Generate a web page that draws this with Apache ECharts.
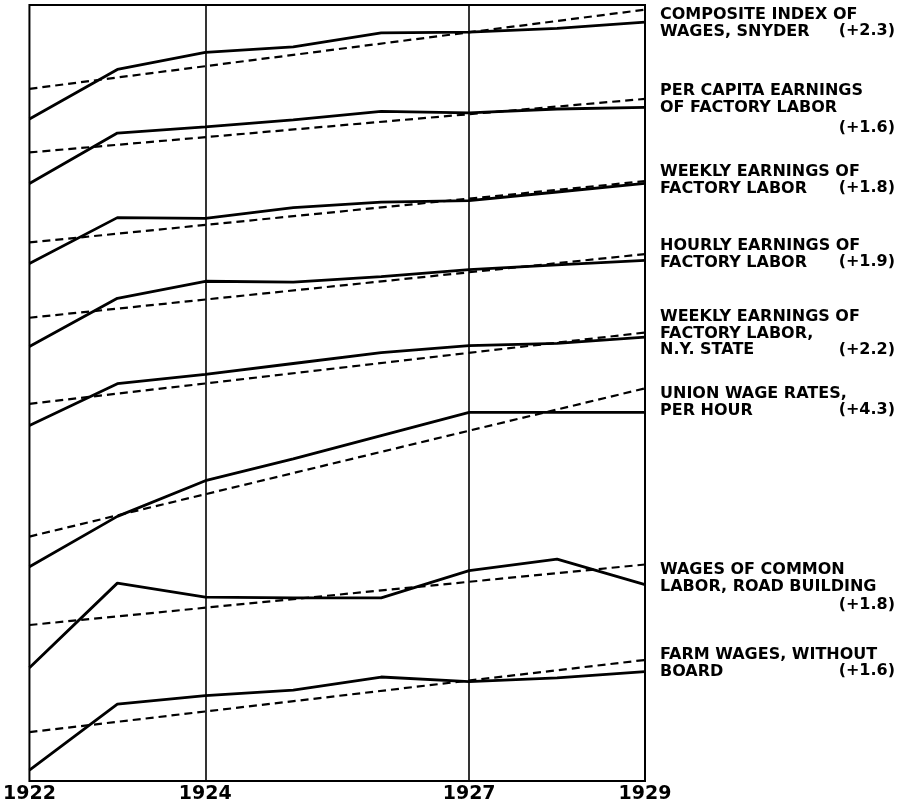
<!DOCTYPE html>
<html>
<head>
<meta charset="utf-8">
<title>Wages 1922-1929</title>
<script src="https://cdn.jsdelivr.net/npm/echarts@6/dist/echarts.min.js"></script>
<style>
  html, body { margin: 0; padding: 0; background: #fff; }
  #chart { width: 899px; height: 810px; }
</style>
</head>
<body>
<div id="chart"></div>
<script>
// years on the x axis
const years = [1922, 1923, 1924, 1925, 1926, 1927, 1928, 1929]
const yearLabels = [1922, 1924, 1927, 1929]

// series values (relative chart units)
const composite = [85.3, 91.7, 93.9, 94.6, 96.4, 96.5, 97.0, 97.8]
const perCapita = [77.0, 83.5, 84.3, 85.2, 86.3, 86.1, 86.6, 86.8]
const weeklyFactory = [66.7, 72.6, 72.5, 73.9, 74.6, 74.8, 75.9, 77.0]
const hourlyFactory = [56.0, 62.2, 64.4, 64.3, 65.0, 65.9, 66.5, 67.1]
const weeklyNY = [45.8, 51.2, 52.4, 53.8, 55.2, 56.1, 56.4, 57.2]
const unionRates = [27.6, 34.1, 38.7, 41.5, 44.5, 47.5, 47.5, 47.5]
const commonLabor = [14.6, 25.5, 23.7, 23.6, 23.6, 27.1, 28.6, 25.3]
const farmWages = [1.4, 9.9, 11.0, 11.7, 13.4, 12.8, 13.3, 14.1]

// trend lines: value at 1922 and at 1929
const trendComposite = [89.2, 99.4]
const trendPerCapita = [81.0, 87.9]
const trendWeeklyFactory = [69.4, 77.3]
const trendHourlyFactory = [59.7, 67.9]
const trendWeeklyNY = [48.6, 57.8]
const trendUnionRates = [31.5, 50.6]
const trendCommonLabor = [20.1, 27.9]
const trendFarmWages = [6.3, 15.6]

// right-hand labels
const labelTexts = [
  'COMPOSITE INDEX OF\nWAGES, SNYDER',
  'PER CAPITA EARNINGS\nOF FACTORY LABOR',
  'WEEKLY EARNINGS OF\nFACTORY LABOR',
  'HOURLY EARNINGS OF\nFACTORY LABOR',
  'WEEKLY EARNINGS OF\nFACTORY LABOR,\nN.Y. STATE',
  'UNION WAGE RATES,\nPER HOUR',
  'WAGES OF COMMON\nLABOR, ROAD BUILDING',
  'FARM WAGES, WITHOUT\nBOARD'
]
const rateTexts = ['(+2.3)', '(+1.6)', '(+1.8)', '(+1.9)', '(+2.2)', '(+4.3)', '(+1.8)', '(+1.6)']

const allSeries = [composite, perCapita, weeklyFactory, hourlyFactory, weeklyNY, unionRates, commonLabor, farmWages]
const allTrends = [trendComposite, trendPerCapita, trendWeeklyFactory, trendHourlyFactory, trendWeeklyNY, trendUnionRates, trendCommonLabor, trendFarmWages]

const chart = echarts.init(document.getElementById('chart'), null, { renderer: 'canvas' })

const series = []
allSeries.forEach((vals, i) => {
  series.push({
    type: 'line',
    data: vals.map((v, k) => [years[k], v]),
    symbol: 'none',
    silent: true,
    lineStyle: { color: '#000', width: 2.8 },
    z: 3
  })
  series.push({
    type: 'line',
    data: [[years[0], allTrends[i][0]], [years[years.length - 1], allTrends[i][1]]],
    symbol: 'none',
    silent: true,
    lineStyle: { color: '#000', width: 2.2, type: [8, 5] },
    z: 2
  })
})
// the two inner vertical rules
series[0].markLine = {
  silent: true,
  symbol: 'none',
  label: { show: false },
  lineStyle: { color: '#000', width: 1.6, type: 'solid' },
  data: [{ xAxis: 1924 }, { xAxis: 1927 }]
}

// label positions (top of each block, top of the rate text)
const labelTops = [7, 83, 164, 238, 309, 386, 562, 647]
const rateTops = [23, 120, 180, 254, 342, 402, 597, 663]
const labelFont = 'DejaVu Sans'

const graphic = []
labelTexts.forEach((t, i) => {
  graphic.push({
    type: 'text',
    left: 660,
    top: labelTops[i],
    silent: true,
    style: { text: t, font: 'bold 16px ' + labelFont, lineHeight: 16.5, fill: '#000' }
  })
  graphic.push({
    type: 'text',
    right: 4,
    top: rateTops[i],
    silent: true,
    style: { text: rateTexts[i], font: 'bold 16px ' + labelFont, lineHeight: 16.5, fill: '#000' }
  })
})

chart.setOption({
  animation: false,
  backgroundColor: '#fff',
  grid: {
    left: 29,
    right: 254,
    top: 5,
    bottom: 29,
    show: true,
    borderColor: '#000',
    borderWidth: 2
  },
  xAxis: {
    type: 'value',
    min: 1922,
    max: 1929,
    interval: 1,
    axisLine: { show: false },
    axisTick: { show: false },
    splitLine: { show: false },
    axisLabel: {
      margin: 4,
      color: '#000',
      fontFamily: labelFont,
      fontWeight: 'bold',
      fontSize: 19,
      formatter: v => (yearLabels.indexOf(v) >= 0 ? String(v) : '')
    }
  },
  yAxis: {
    type: 'value',
    min: 0,
    max: 100,
    show: false
  },
  series: series,
  graphic: graphic
})
</script>
</body>
</html>
